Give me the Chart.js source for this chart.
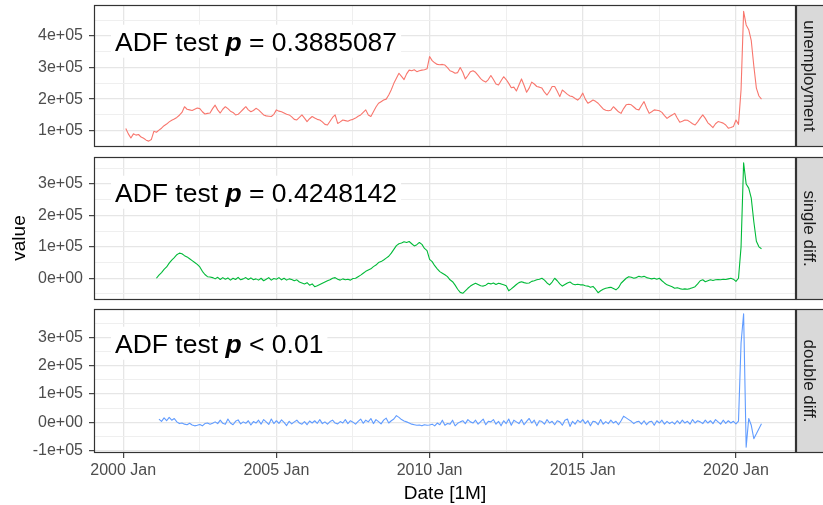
<!DOCTYPE html>
<html>
<head>
<meta charset="utf-8">
<title>Unemployment: levels and differences</title>
<script src="https://cdn.jsdelivr.net/npm/chart.js@4.4.1/dist/chart.umd.min.js"></script>
<style>
  html, body { margin: 0; padding: 0; background: #ffffff; }
  #wrap { position: relative; width: 823px; height: 505px; overflow: hidden; }
  #wrap canvas { position: absolute; left: 0; }
</style>
</head>
<body>
<div id="wrap">
  <canvas id="c1" width="823" height="152" style="top:0px"></canvas>
  <canvas id="c2" width="823" height="153" style="top:152px"></canvas>
  <canvas id="c3" width="823" height="200" style="top:305px"></canvas>
</div>
<script>
// Monthly series, values in thousands of persons.
// unemployment: 2000 Feb .. 2020 Nov
const unemploymentStart = [2000, 2];
const unemployment = [
  107, 90, 77, 90, 86, 88, 80, 76, 70, 67, 72,
  98, 95, 102, 108, 116, 121, 128, 133, 137, 142, 149, 158,
  176, 168, 166, 164, 168, 172, 170, 160, 153, 155, 156, 170,
  181, 166, 156, 168, 176, 170, 162, 158, 150, 152, 160, 168,
  176, 166, 160, 164, 171, 166, 158, 150, 147, 146, 145, 152,
  166, 162, 160, 156, 152, 150, 144, 136, 134, 142, 150, 140,
  129, 138, 145, 140, 136, 134, 128, 120, 118, 130, 142, 150,
  123, 128, 134, 132, 130, 134, 136, 140, 146, 150, 158, 166,
  150, 145, 160, 175, 187, 192, 197, 200, 213, 230, 250, 266,
  282, 272, 262, 280, 292, 290, 293, 287, 290, 292, 293, 296,
  335, 322, 315, 310, 309, 310, 308, 300, 290, 287, 282, 284,
  300, 285, 264, 275, 287, 290, 285, 275, 265, 258, 254, 262,
  275, 262, 248, 245, 258, 271, 262, 250, 236, 238, 226, 245,
  264, 244, 222, 235, 254, 248, 240, 238, 235, 222, 213, 225,
  240, 240, 225, 208, 229, 222, 215, 210, 208, 202, 197, 205,
  219, 200, 187, 192, 197, 193, 187, 178, 169, 165, 163, 165,
  176, 168, 160, 155, 170, 182, 184, 182, 175, 168, 166, 180,
  192, 172, 155, 160, 166, 165, 163, 158, 148, 139, 145, 150,
  155, 140, 127, 130, 134, 133, 128, 122, 118, 128, 140, 150,
  139, 125, 118, 110, 122, 129, 127, 124, 118, 108, 110, 113,
  134, 120, 230, 478, 435, 420, 385, 305, 235, 210, 200
];

// single diff.: 2001 Feb .. 2020 Nov
const singleDiffStart = [2001, 2];
const singleDiff = [
  0, 10, 18, 28, 36, 48, 58, 66, 75, 80, 78,
  72, 68, 62, 56, 50, 44, 36, 22, 12, 5, 4, 2,
  -2, 3, -4, 2, -3, 1, -6, 0, -4, 3, -5, -2,
  2, -4, 1, -5, -2, -6, 0, -8, -3, 2, -6, -1,
  -3, 2, -5, 0, -6, -2, -4, -8, -5, -12, -15, -18,
  -14, -22, -18, -27, -24, -20, -16, -12, -8, -5, 0, 2,
  -3, -6, -2, -5, -3, -6, -1, 0, 5, 10, 16, 22,
  26, 30, 37, 42, 50, 53, 58, 64, 70, 80, 92, 104,
  110, 112, 116, 114, 117, 110, 103, 107, 114, 108, 95, 88,
  60, 53, 40, 30, 21, 16, 11, 5, -5, -11, -22, -35,
  -45, -48, -40, -32, -25, -20, -16, -20, -24, -25, -22, -16,
  -18, -15, -20, -16, -18, -21, -24, -40, -34, -27, -20, -14,
  -11, -14, -16, -15, -10, -8, -5, -3, 0, -6, -15, -21,
  -12, 0, -8, -18, -25, -20, -15, -12, -18, -21, -19, -21,
  -21, -24, -25, -29, -26, -35, -46, -40, -35, -32, -30, -29,
  -33, -37, -30, -16, -8, 0, 5, 3, 0, 2, 6, 4,
  6, 2, 0, -2, 0, -3, 0, -8, -15, -21, -24, -27,
  -32, -30, -33, -35, -34, -35, -33, -30, -27, -18, -8, -5,
  -11, -8, -5, -7, -5, -4, -5, -3, -4, -2, 0, -3,
  -10, 0, 100, 368, 300, 287, 255, 180, 118, 100, 94
];

// double diff.: 2001 Mar .. 2020 Nov
const doubleDiffStart = [2001, 3];
const doubleDiff = [
  12, 4, 16, 6, 18, 8, 14, 2, -4, -2,
  -6, -8, -3, -9, -12, -10, -7, -12, -4, -2, -6, -3,
  2, -4, 8, -3, -6, 12, -2, -8, 4, 9, -5, 2,
  -3, 6, -9, 3, -2, 8, -6, 10, 2, -7, 12, -4,
  6, -3, 9, 0, -11, 4, -5, 2, 8, -2, -6, 3,
  -8, 5, -2, 6, -3, 10, -4, 2, -6, 3, 8, -2,
  -5, 3, -2, 10, -4, 6, 1, -6, 4, 12, -3, 8,
  2, 14, -4, 10, 3, -5, 8, 15, -2, 6, 12, 24,
  18, 10, 5, 2, -2, -6, -8, -10, -9, -12, -8, -10,
  -9, -6, -12, -2, -8, 8, -10, -4, -6, 8, -12, -3,
  2, 6, -4, 10, 2, -2, 8, -6, 3, 12, -8, 4,
  2, 10, -6, 4, -12, 6, -4, 12, -10, 8, 2, -4,
  10, -8, 4, 14, -2, 8, -12, 6, 3, -6, 10, -2,
  4, -8, 6, 2, -10, 8, 12, -14, 4, -6, 8, 0,
  10, -4, 6, -12, 4, 2, -8, 10, -6, 3, -4, 8,
  -2, 4, -8, 6, 22, 16, 10, 4, -4, 2, 4, -6,
  6, -8, 2, 4, -10, 6, -2, 8, -6, 4, -4, 2,
  -6, 6, -4, 8, -2, 4, -6, 10, -2, 6, 2, -4,
  8, -2, 6, -4, 10, 2, -6, 8, -3, 6, -2, 4,
  -5, 5, 280, 383, -87, 14, -10, -57, -40, -22, -5
];

// Grid breaks (major and minor), y in thousands
const xBreaks = [2000, 2002.5, 2005, 2007.5, 2010, 2012.5, 2015, 2017.5, 2020];
const yBreaksUnemployment = [50, 100, 150, 200, 250, 300, 350, 400, 450];
const yBreaksSingle = [-50, 0, 50, 100, 150, 200, 250, 300, 350];
const yBreaksDouble = [-100, -50, 0, 50, 100, 150, 200, 250, 300, 350];

// ADF test results shown on each facet
const adfLabels = [
  [['ADF test ', 'n'], ['p', 'bi'], [' = 0.3885087', 'n']],
  [['ADF test ', 'n'], ['p', 'bi'], [' = 0.4248142', 'n']],
  [['ADF test ', 'n'], ['p', 'bi'], [' < 0.01', 'n']]
];
const stripLabels = ['unemployment', 'single diff.', 'double diff.'];

const FONT = "'Liberation Sans', Arial, Helvetica, sans-serif";
const GRID_MAJOR = '#e6e6e6';
const GRID_MINOR = '#efefef';
const AXIS_DARK = '#333333';
const NONE = 'rgba(0,0,0,0)';

function monthly(start, values) {
  const [y0, m0] = start;
  return values.map((v, i) => ({ x: y0 + (m0 - 1 + i) / 12, y: v }));
}

// whole multiple of `step`, tolerant of floating point noise
const onStep = (v, step) => Math.abs(v / step - Math.round(v / step)) < 1e-6;
const isMajorY = v => onStep(v, 100);
const isMajorX = v => onStep(v, 5);

function sciLabel(v) {
  if (!isMajorY(v)) return '';
  const n = Math.round(v / 100);
  if (n === 0) return '0e+00';
  return (n < 0 ? '-' : '') + Math.abs(n) + 'e+05';
}

function yAxis(min, max, breaks) {
  return {
    min, max,
    border: { display: false },
    afterBuildTicks: s => { s.ticks = breaks.map(v => ({ value: v })); },
    grid: {
      color: c => (c.tick && isMajorY(c.tick.value)) ? GRID_MAJOR : GRID_MINOR,
      lineWidth: c => (c.tick && isMajorY(c.tick.value)) ? 1.3 : 1,
      drawTicks: true,
      tickLength: 5,
      tickWidth: 1.1,
      tickColor: c => (c.tick && isMajorY(c.tick.value)) ? AXIS_DARK : NONE
    },
    ticks: {
      autoSkip: false,
      padding: 6,
      color: '#4d4d4d',
      font: { family: FONT, size: 16 },
      callback: v => sciLabel(v)
    },
    afterFit: s => { s.width = 94; s.paddingTop = 0; s.paddingBottom = 0; }
  };
}

function xAxis(showLabels) {
  return {
    type: 'linear',
    min: 1999.046,
    max: 2021.96,
    border: { display: false },
    afterBuildTicks: s => { s.ticks = xBreaks.map(v => ({ value: v })); },
    grid: {
      color: c => (c.tick && isMajorX(c.tick.value)) ? GRID_MAJOR : GRID_MINOR,
      lineWidth: c => (c.tick && isMajorX(c.tick.value)) ? 1.3 : 1,
      drawTicks: showLabels,
      tickLength: 5,
      tickWidth: 1.1,
      tickColor: c => (c.tick && isMajorX(c.tick.value)) ? AXIS_DARK : NONE
    },
    ticks: {
      display: showLabels,
      autoSkip: false,
      maxRotation: 0,
      padding: 3,
      color: '#4d4d4d',
      font: { family: FONT, size: 16 },
      callback: v => isMajorX(v) ? Math.round(v) + ' Jan' : ''
    },
    title: {
      display: showLabels,
      text: 'Date [1M]',
      color: '#000000',
      font: { family: FONT, size: 19 },
      padding: { top: 0, bottom: 0 }
    },
    afterFit: s => {
      s.height = showLabels ? 52 : 0;
      s.paddingLeft = 0; s.paddingRight = 0;
    }
  };
}

// Panel frame, facet strip and ADF annotation
const facetDecor = {
  id: 'facetDecor',
  afterDatasetsDraw(chart, args, opts) {
    const { ctx, chartArea: a } = chart;
    const size = 26.5;
    const fonts = { n: `${size}px ${FONT}`, bi: `italic bold ${size}px ${FONT}` };
    ctx.save();
    let w = 0;
    opts.label.forEach(([t, s]) => { ctx.font = fonts[s]; w += ctx.measureText(t).width; });
    const x0 = a.left + 21;
    const base = opts.baseline;
    ctx.fillStyle = '#ffffff';
    ctx.fillRect(x0 - 4, base - 26, w + 8, 33);
    ctx.fillStyle = '#000000';
    ctx.textAlign = 'left';
    ctx.textBaseline = 'alphabetic';
    let x = x0;
    opts.label.forEach(([t, s]) => {
      ctx.font = fonts[s];
      ctx.fillText(t, x, base);
      x += ctx.measureText(t).width;
    });
    ctx.restore();
  },
  afterDraw(chart, args, opts) {
    const { ctx, chartArea: a } = chart;
    const h = a.bottom - a.top;
    ctx.save();
    // strip
    ctx.fillStyle = '#d9d9d9';
    ctx.fillRect(a.right, a.top, 40, h);
    ctx.strokeStyle = AXIS_DARK;
    ctx.lineWidth = 1.2;
    ctx.strokeRect(a.right + 0.5, a.top + 0.5, 40, h - 1);
    // panel frame
    ctx.strokeRect(a.left + 0.5, a.top + 0.5, a.right - a.left - 1, h - 1);
    // strip text, reading top to bottom
    ctx.translate(a.right + 12.5, (a.top + a.bottom) / 2);
    ctx.rotate(Math.PI / 2);
    ctx.fillStyle = '#1a1a1a';
    ctx.font = `17px ${FONT}`;
    ctx.textAlign = 'center';
    ctx.textBaseline = 'middle';
    ctx.fillText(opts.strip, 0, 0);
    ctx.restore();
    if (opts.yTitle) {
      ctx.save();
      ctx.translate(opts.yTitle.x, opts.yTitle.y);
      ctx.rotate(-Math.PI / 2);
      ctx.fillStyle = '#000000';
      ctx.font = `19px ${FONT}`;
      ctx.textAlign = 'center';
      ctx.textBaseline = 'alphabetic';
      ctx.fillText('value', 0, 0);
      ctx.restore();
    }
  }
};

function makeChart(id, points, color, yMin, yMax, yBreaks, showX, padding, decor) {
  return new Chart(document.getElementById(id), {
    type: 'line',
    data: {
      datasets: [{
        data: points,
        borderColor: color,
        borderWidth: 1.1,
        borderJoinStyle: 'round',
        pointRadius: 0,
        tension: 0,
        fill: false
      }]
    },
    options: {
      responsive: false,
      animation: false,
      layout: { padding },
      scales: { x: xAxis(showX), y: yAxis(yMin, yMax, yBreaks) },
      plugins: {
        legend: { display: false },
        tooltip: { enabled: false },
        facetDecor: decor
      }
    },
    plugins: [facetDecor]
  });
}

makeChart('c1', monthly(unemploymentStart, unemployment), '#F8766D', 48.4, 498.2, yBreaksUnemployment, false,
  { left: 0, right: 27, top: 5, bottom: 5 },
  { label: adfLabels[0], baseline: 50.7, strip: stripLabels[0] });

makeChart('c2', monthly(singleDiffStart, singleDiff), '#00BA38', -69.3, 386.2, yBreaksSingle, false,
  { left: 0, right: 27, top: 5, bottom: 5 },
  { label: adfLabels[1], baseline: 49.7, strip: stripLabels[1], yTitle: { x: 25, y: 86 } });

makeChart('c3', monthly(doubleDiffStart, doubleDiff), '#619CFF', -107.6, 399.5, yBreaksDouble, true,
  { left: 0, right: 27, top: 4, bottom: 0 },
  { label: adfLabels[2], baseline: 47.7, strip: stripLabels[2] });
</script>
</body>
</html>
